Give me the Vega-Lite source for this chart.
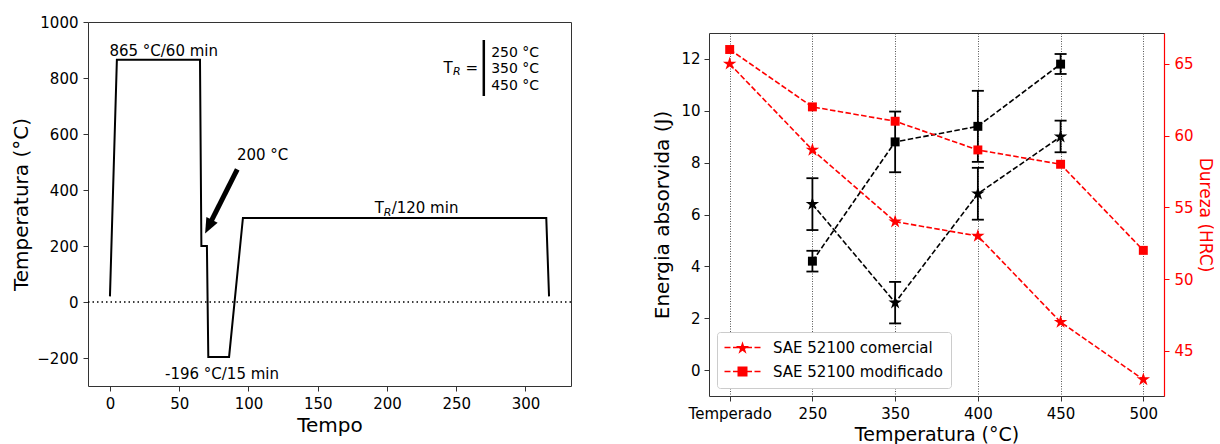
{
  "$schema": "https://vega.github.io/schema/vega-lite/v6.json",
  "background": "white",
  "padding": {"left": 11, "top": 14, "right": 0, "bottom": 0},
  "spacing": 79,
  "resolve": {"legend": {"shape": "independent"}},
  "config": {
    "font": "DejaVu Sans",
    "view": {"stroke": "#333333", "strokeWidth": 1},
    "axis": {"labelFont": "DejaVu Sans", "titleFont": "DejaVu Sans", "labelFontSize": 15, "titleFontSize": 20, "titleFontWeight": "normal", "labelColor": "black", "titleColor": "black", "tickColor": "#333333", "tickSize": 5, "labelPadding": 5, "domain": false, "grid": false},
    "legend": {"labelFont": "DejaVu Sans", "labelFontSize": 15, "labelColor": "black", "labelLimit": 0},
    "text": {"font": "DejaVu Sans", "color": "black"}
  },
  "hconcat": [
    {
      "width": 483,
      "height": 364,
      "layer": [
        {
          "data": {"values": [{"v": 0}]},
          "mark": {"type": "rule", "color": "black", "strokeWidth": 1.5, "strokeDash": [1.5, 3]},
          "encoding": {"y": {"field": "v", "type": "quantitative", "title": "Temperatura (°C)"}}
        },
        {
          "data": {"values": [
            {"i": 0, "t": 0, "temp": 20},
            {"i": 1, "t": 5, "temp": 865},
            {"i": 2, "t": 65, "temp": 865},
            {"i": 3, "t": 66, "temp": 200},
            {"i": 4, "t": 70, "temp": 200},
            {"i": 5, "t": 71, "temp": -196},
            {"i": 6, "t": 86, "temp": -196},
            {"i": 7, "t": 96, "temp": 300},
            {"i": 8, "t": 315, "temp": 300},
            {"i": 9, "t": 317, "temp": 20}
          ]},
          "mark": {"type": "line", "color": "black", "strokeWidth": 2, "strokeJoin": "miter"},
          "encoding": {
            "x": {"field": "t", "type": "quantitative", "title": "Tempo", "scale": {"domain": [-15.85, 332.85], "nice": false, "zero": false}, "axis": {"values": [0, 50, 100, 150, 200, 250, 300], "format": "d", "titlePadding": 4}},
            "y": {"field": "temp", "type": "quantitative", "title": "Temperatura (°C)", "scale": {"domain": [-300, 1000], "nice": false, "zero": false}, "axis": {"values": [-200, 0, 200, 400, 600, 800, 1000], "format": "d", "titlePadding": 5}},
            "order": {"field": "i", "type": "quantitative"}
          }
        },
        {
          "data": {"values": [{"t0": 91.9, "y0": 474, "t1": 73.2, "y1": 290}]},
          "mark": {"type": "rule", "color": "black", "strokeWidth": 5},
          "encoding": {
            "x": {"field": "t0", "type": "quantitative", "title": "Tempo"},
            "y": {"field": "y0", "type": "quantitative", "title": "Temperatura (°C)"},
            "x2": {"field": "t1"},
            "y2": {"field": "y1"}
          }
        },
        {
          "data": {"values": [{"t": 68.7, "temp": 245}]},
          "mark": {"type": "point", "shape": "M0,0L-1,2.4L1,2.4Z", "filled": true, "color": "black", "opacity": 1, "size": 160, "angle": 207},
          "encoding": {
            "x": {"field": "t", "type": "quantitative", "title": "Tempo"},
            "y": {"field": "temp", "type": "quantitative", "title": "Temperatura (°C)"}
          }
        },
        {
          "data": {"values": [
            {"t": 38.8, "temp": 897, "txt": "865 °C/60 min"},
            {"t": 110.2, "temp": 525, "txt": "200 °C"},
            {"t": 80.9, "temp": -257, "txt": "-196 °C/15 min"}
          ]},
          "mark": {"type": "text", "fontSize": 15, "align": "center", "baseline": "middle"},
          "encoding": {
            "x": {"field": "t", "type": "quantitative", "title": "Tempo"},
            "y": {"field": "temp", "type": "quantitative", "title": "Temperatura (°C)"},
            "text": {"field": "txt"}
          }
        },
        {
          "data": {"values": [{"t": 191.1, "temp": 316.8, "txt": "T"}]},
          "mark": {"type": "text", "fontSize": 15, "align": "left", "baseline": "alphabetic"},
          "encoding": {
            "x": {"field": "t", "type": "quantitative", "title": "Tempo"},
            "y": {"field": "temp", "type": "quantitative", "title": "Temperatura (°C)"},
            "text": {"field": "txt"}
          }
        },
        {
          "data": {"values": [{"t": 191.1, "temp": 316.8, "txt": "R"}]},
          "mark": {"type": "text", "fontSize": 11, "fontStyle": "italic", "align": "left", "baseline": "alphabetic", "dx": 9, "dy": 3},
          "encoding": {
            "x": {"field": "t", "type": "quantitative", "title": "Tempo"},
            "y": {"field": "temp", "type": "quantitative", "title": "Temperatura (°C)"},
            "text": {"field": "txt"}
          }
        },
        {
          "data": {"values": [{"t": 191.1, "temp": 316.8, "txt": "/120 min"}]},
          "mark": {"type": "text", "fontSize": 15, "align": "left", "baseline": "alphabetic", "dx": 17},
          "encoding": {
            "x": {"field": "t", "type": "quantitative", "title": "Tempo"},
            "y": {"field": "temp", "type": "quantitative", "title": "Temperatura (°C)"},
            "text": {"field": "txt"}
          }
        },
        {
          "data": {"values": [{"t": 240.8, "temp": 835.7, "txt": "T"}]},
          "mark": {"type": "text", "fontSize": 15, "align": "left", "baseline": "middle"},
          "encoding": {
            "x": {"field": "t", "type": "quantitative", "title": "Tempo"},
            "y": {"field": "temp", "type": "quantitative", "title": "Temperatura (°C)"},
            "text": {"field": "txt"}
          }
        },
        {
          "data": {"values": [{"t": 240.8, "temp": 835.7, "txt": "R"}]},
          "mark": {"type": "text", "fontSize": 11, "fontStyle": "italic", "align": "left", "baseline": "middle", "dx": 9.5, "dy": 4},
          "encoding": {
            "x": {"field": "t", "type": "quantitative", "title": "Tempo"},
            "y": {"field": "temp", "type": "quantitative", "title": "Temperatura (°C)"},
            "text": {"field": "txt"}
          }
        },
        {
          "data": {"values": [{"t": 240.8, "temp": 835.7, "txt": "="}]},
          "mark": {"type": "text", "fontSize": 15, "align": "left", "baseline": "middle", "dx": 22},
          "encoding": {
            "x": {"field": "t", "type": "quantitative", "title": "Tempo"},
            "y": {"field": "temp", "type": "quantitative", "title": "Temperatura (°C)"},
            "text": {"field": "txt"}
          }
        },
        {
          "data": {"values": [{"t": 269.9, "a": 735.7, "b": 935.7}]},
          "mark": {"type": "rule", "color": "black", "strokeWidth": 2.5},
          "encoding": {
            "x": {"field": "t", "type": "quantitative", "title": "Tempo"},
            "y": {"field": "a", "type": "quantitative", "title": "Temperatura (°C)"},
            "y2": {"field": "b"}
          }
        },
        {
          "data": {"values": [
            {"t": 275.2, "temp": 890, "txt": "250 °C"},
            {"t": 275.2, "temp": 831, "txt": "350 °C"},
            {"t": 275.2, "temp": 771, "txt": "450 °C"}
          ]},
          "mark": {"type": "text", "fontSize": 14, "align": "left", "baseline": "middle"},
          "encoding": {
            "x": {"field": "t", "type": "quantitative", "title": "Tempo"},
            "y": {"field": "temp", "type": "quantitative", "title": "Temperatura (°C)"},
            "text": {"field": "txt"}
          }
        }
      ]
    },
    {
      "spacing": 9,
      "resolve": {"legend": {"shape": "independent"}},
      "vconcat": [
        {
          "width": 455,
          "height": 1,
          "view": {"stroke": null},
          "data": {"values": []},
          "mark": {"type": "point", "opacity": 0}
        },
        {
          "width": 455,
          "height": 363,
          "encoding": {
            "x": {"field": "idx", "type": "quantitative", "title": "Temperatura (°C)", "scale": {"domain": [-0.25, 5.25], "nice": false, "zero": false}, "axis": {"values": [0, 1, 2, 3, 4, 5], "labelExpr": "['Temperado','250','350','400','450','500'][datum.value]", "grid": true, "gridDash": [1, 1.5], "gridColor": "#555555", "gridWidth": 1, "titlePadding": 4, "titleFontSize": 19, "labelPadding": 5}}
          },
          "layer": [
            {
              "data": {"values": [
                {"idx": 1, "serie": "SAE 52100 comercial", "e": 6.4, "lo": 5.4, "hi": 7.4},
                {"idx": 2, "serie": "SAE 52100 comercial", "e": 2.6, "lo": 1.8, "hi": 3.4},
                {"idx": 3, "serie": "SAE 52100 comercial", "e": 6.8, "lo": 5.8, "hi": 7.8},
                {"idx": 4, "serie": "SAE 52100 comercial", "e": 9.0, "lo": 8.4, "hi": 9.62},
                {"idx": 1, "serie": "SAE 52100 modificado", "e": 4.2, "lo": 3.8, "hi": 4.6},
                {"idx": 2, "serie": "SAE 52100 modificado", "e": 8.8, "lo": 7.63, "hi": 9.97},
                {"idx": 3, "serie": "SAE 52100 modificado", "e": 9.4, "lo": 8.03, "hi": 10.77},
                {"idx": 4, "serie": "SAE 52100 modificado", "e": 11.8, "lo": 11.42, "hi": 12.19}
              ]},
              "layer": [
                {
                  "mark": {"type": "line", "color": "black", "strokeWidth": 1.6, "strokeDash": [5.5, 2.4]},
                  "encoding": {
                    "y": {"field": "e", "type": "quantitative", "title": "Energia absorvida (J)", "scale": {"domain": [-1, 13], "nice": false, "zero": false}, "axis": {"orient": "left", "values": [0, 2, 4, 6, 8, 10, 12], "format": "d", "titlePadding": 8, "labelPadding": 4}},
                    "detail": {"field": "serie", "type": "nominal"}
                  }
                },
                {
                  "mark": {"type": "rule", "color": "black", "strokeWidth": 1.8},
                  "encoding": {
                    "y": {"field": "lo", "type": "quantitative", "title": "Energia absorvida (J)"},
                    "y2": {"field": "hi"}
                  }
                },
                {
                  "mark": {"type": "point", "shape": "stroke", "filled": false, "color": "black", "strokeWidth": 1.8, "size": 144, "opacity": 1},
                  "encoding": {"y": {"field": "lo", "type": "quantitative", "title": "Energia absorvida (J)"}}
                },
                {
                  "mark": {"type": "point", "shape": "stroke", "filled": false, "color": "black", "strokeWidth": 1.8, "size": 144, "opacity": 1},
                  "encoding": {"y": {"field": "hi", "type": "quantitative", "title": "Energia absorvida (J)"}}
                },
                {
                  "transform": [{"filter": "datum.serie == 'SAE 52100 comercial'"}],
                  "mark": {"type": "point", "shape": "M0,-1L0.225,-0.309L0.951,-0.309L0.363,0.118L0.588,0.809L0,0.382L-0.588,0.809L-0.363,0.118L-0.951,-0.309L-0.225,-0.309Z", "filled": true, "color": "black", "size": 200, "opacity": 1},
                  "encoding": {"y": {"field": "e", "type": "quantitative", "title": "Energia absorvida (J)"}}
                },
                {
                  "transform": [{"filter": "datum.serie == 'SAE 52100 modificado'"}],
                  "mark": {"type": "point", "shape": "square", "filled": true, "color": "black", "size": 80, "opacity": 1},
                  "encoding": {"y": {"field": "e", "type": "quantitative", "title": "Energia absorvida (J)"}}
                }
              ]
            },
            {
              "data": {"values": [
                {"idx": 0, "serie": "SAE 52100 comercial", "hrc": 65},
                {"idx": 1, "serie": "SAE 52100 comercial", "hrc": 59},
                {"idx": 2, "serie": "SAE 52100 comercial", "hrc": 54},
                {"idx": 3, "serie": "SAE 52100 comercial", "hrc": 53},
                {"idx": 4, "serie": "SAE 52100 comercial", "hrc": 47},
                {"idx": 5, "serie": "SAE 52100 comercial", "hrc": 43},
                {"idx": 0, "serie": "SAE 52100 modificado", "hrc": 66},
                {"idx": 1, "serie": "SAE 52100 modificado", "hrc": 62},
                {"idx": 2, "serie": "SAE 52100 modificado", "hrc": 61},
                {"idx": 3, "serie": "SAE 52100 modificado", "hrc": 59},
                {"idx": 4, "serie": "SAE 52100 modificado", "hrc": 58},
                {"idx": 5, "serie": "SAE 52100 modificado", "hrc": 52}
              ]},
              "layer": [
                {
                  "mark": {"type": "line", "color": "#ff0000", "strokeWidth": 1.6, "strokeDash": [5.5, 2.4]},
                  "encoding": {
                    "y": {"field": "hrc", "type": "quantitative", "title": "Dureza (HRC)", "scale": {"domain": [41.85, 67.15], "nice": false, "zero": false}, "axis": {"orient": "right", "values": [45, 50, 55, 60, 65], "format": "d", "labelColor": "#ff0000", "tickColor": "#ff0000", "titleColor": "#ff0000", "domain": true, "domainColor": "#ff0000", "domainWidth": 1.2, "titlePadding": 2, "titleFontSize": 17, "labelPadding": 5, "tickSize": 5}},
                    "detail": {"field": "serie", "type": "nominal"}
                  }
                },
                {
                  "transform": [{"filter": "datum.serie == 'SAE 52100 comercial'"}],
                  "mark": {"type": "point", "shape": "M0,-1L0.225,-0.309L0.951,-0.309L0.363,0.118L0.588,0.809L0,0.382L-0.588,0.809L-0.363,0.118L-0.951,-0.309L-0.225,-0.309Z", "filled": true, "color": "#ff0000", "size": 200, "opacity": 1},
                  "encoding": {"y": {"field": "hrc", "type": "quantitative", "title": "Dureza (HRC)"}}
                },
                {
                  "transform": [{"filter": "datum.serie == 'SAE 52100 modificado'"}],
                  "mark": {"type": "point", "shape": "square", "filled": true, "color": "#ff0000", "size": 80, "opacity": 1},
                  "encoding": {"y": {"field": "hrc", "type": "quantitative", "title": "Dureza (HRC)"}}
                },
                {
                  "transform": [{"filter": "false"}],
                  "mark": {"type": "point", "filled": true, "color": "#ff0000", "opacity": 1},
                  "encoding": {
                    "y": {"field": "hrc", "type": "quantitative", "title": "Dureza (HRC)"},
                    "shape": {
                      "field": "serie", "type": "nominal",
                      "scale": {
                        "domain": ["SAE 52100 comercial", "SAE 52100 modificado"],
                        "range": [
                          "M-1.6,-0.15H-0.4V0.15H-1.6Z M0.1,-0.15H1.3V0.15H0.1Z M2.7,-0.15H3.9V0.15H2.7Z M4.4,-0.15H5.6V0.15H4.4Z M2,-1.24L2.308,-0.293L3.303,-0.293L2.497,0.292L2.806,1.238L2,0.653L1.194,1.238L1.503,0.292L0.697,-0.293L1.692,-0.293Z",
                          "M-1.6,-0.15H-0.4V0.15H-1.6Z M0.1,-0.15H1.3V0.15H0.1Z M2.7,-0.15H3.9V0.15H2.7Z M4.4,-0.15H5.6V0.15H4.4Z M1,-1H3V1H1Z"
                        ]
                      },
                      "legend": {"title": null, "orient": "bottom-left", "offset": 8, "padding": 8, "fillColor": "white", "strokeColor": "#cccccc", "cornerRadius": 3, "symbolSize": 100, "symbolFillColor": "#ff0000", "symbolStrokeWidth": 0, "symbolOpacity": 1, "labelOffset": 33, "rowPadding": 8, "labelFontSize": 15, "labelLimit": 0}
                    }
                  }
                }
              ]
            }
          ],
          "resolve": {"scale": {"y": "independent"}}
        }
      ]
    }
  ]
}
